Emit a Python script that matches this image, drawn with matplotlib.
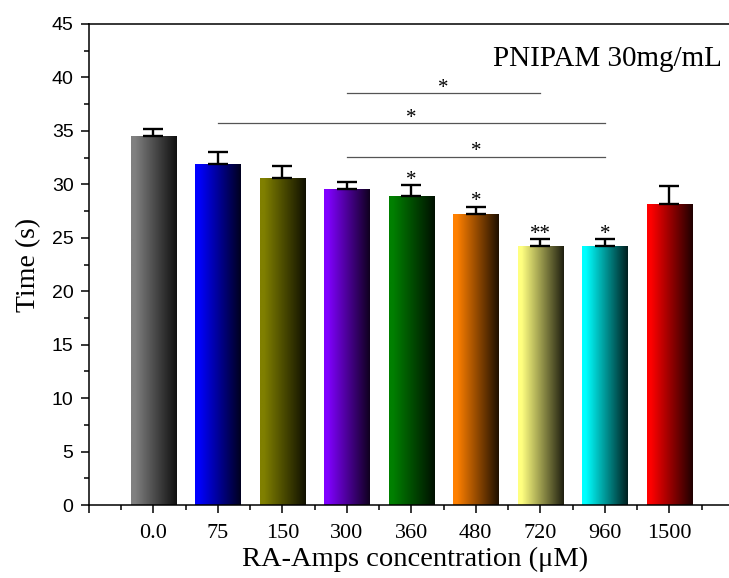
import numpy as np
import matplotlib
matplotlib.use('Agg')
import matplotlib.pyplot as plt
import matplotlib.ticker as mticker
from matplotlib.colors import to_rgb

matplotlib.rcParams.update({
    'font.family': 'Liberation Serif',
    'axes.linewidth': 1.1,
    'xtick.direction': 'out',
    'ytick.direction': 'out',
})

# ── data ─────────────────────────────────────────────────────────────────────
conc_labels = ['0.0', '75', '150', '300', '360', '480', '720', '960', '1500']
time_mean   = [34.5, 31.9, 30.6, 29.6, 28.9, 27.2, 24.2, 24.2, 28.2]
time_err    = [0.7, 1.1, 1.1, 0.6, 1.0, 0.7, 0.65, 0.65, 1.6]
bar_stars   = ['', '', '', '', '*', '*', '**', '*', '']
bar_colors  = ['#808080', '#0000ff', '#808000', '#8000ff', '#008000',
               '#ff8000', '#ffff80', '#00ffff', '#ff0000']

# significance brackets: from group, to group, height, mark
sig_from  = ['300', '75', '300']
sig_to    = ['720', '960', '960']
sig_y     = [38.5, 35.7, 32.6]
sig_marks = ['*', '*', '*']

x = np.arange(1, len(conc_labels) + 1)

fig = plt.figure(figsize=(7.29, 5.78), dpi=100)
ax = fig.add_axes([88.8 / 729, 1 - 505 / 578, 645 / 729, 481 / 578])

bars = ax.bar(x, time_mean, width=0.7, color='none', edgecolor='none', zorder=2)

# horizontal gradient: base colour on the left, almost black on the right
t = np.linspace(0, 1, 200)
shade = 1 - 0.88 * np.clip((t - 0.08) / 0.92, 0, 1)
for bar, c in zip(bars, bar_colors):
    rgb = np.array(to_rgb(c))
    img = (shade[:, None] * rgb[None, :])[None, :, :]
    bx, bw, bh = bar.get_x(), bar.get_width(), bar.get_height()
    im = ax.imshow(img, extent=[bx, bx + bw, 0, bh], aspect='auto',
                   interpolation='bilinear', zorder=2)
    im.set_clip_path(bar)

ax.errorbar(x, time_mean, yerr=[np.zeros(len(x)), time_err], fmt='none',
            ecolor='black', elinewidth=1.7, capsize=7.5, capthick=1.7, zorder=3)

for xi, m, e, s in zip(x, time_mean, time_err, bar_stars):
    if s:
        ax.text(xi, m + e + 0.05, s, ha='center', va='baseline', fontsize=15)

for a, b, y, s in zip(sig_from, sig_to, sig_y, sig_marks):
    x0 = conc_labels.index(a) + 1
    x1 = conc_labels.index(b) + 1
    ax.plot([x0, x1], [y, y], color='#555555', lw=0.9, zorder=3)
    ax.text((x0 + x1) / 2, y + 0.05, s, ha='center', va='baseline', fontsize=15)

ax.set_xlim(0, 10)
ax.set_ylim(0, 45)
ax.set_xticks(np.arange(0, 11))
ax.set_xticklabels([''] + conc_labels + [''], fontsize=16)
ax.xaxis.set_minor_locator(mticker.MultipleLocator(0.5))
ax.yaxis.set_major_locator(mticker.MultipleLocator(5))
ax.yaxis.set_minor_locator(mticker.MultipleLocator(2.5))
for lab in ax.get_yticklabels():
    lab.set_family('Liberation Sans')
    lab.set_fontsize(14)
ax.tick_params(which='major', length=6, width=1.1)
ax.tick_params(which='minor', length=3.5, width=1.1)
ax.tick_params(axis='x', pad=8)
ax.tick_params(axis='y', pad=5)

ax.set_xlabel('RA-Amps concentration (\u03bcM)', fontsize=20.5)
ax.xaxis.set_label_coords(0.506, -0.086)
ax.set_ylabel('Time (s)', fontsize=20)
ax.yaxis.set_label_coords(-0.074, 0.5)

ax.text(722 / 729, 1 - 66 / 578, 'PNIPAM 30mg/mL', transform=fig.transFigure,
        ha='right', va='baseline', fontsize=21)

fig.savefig('out.png', dpi=100)
